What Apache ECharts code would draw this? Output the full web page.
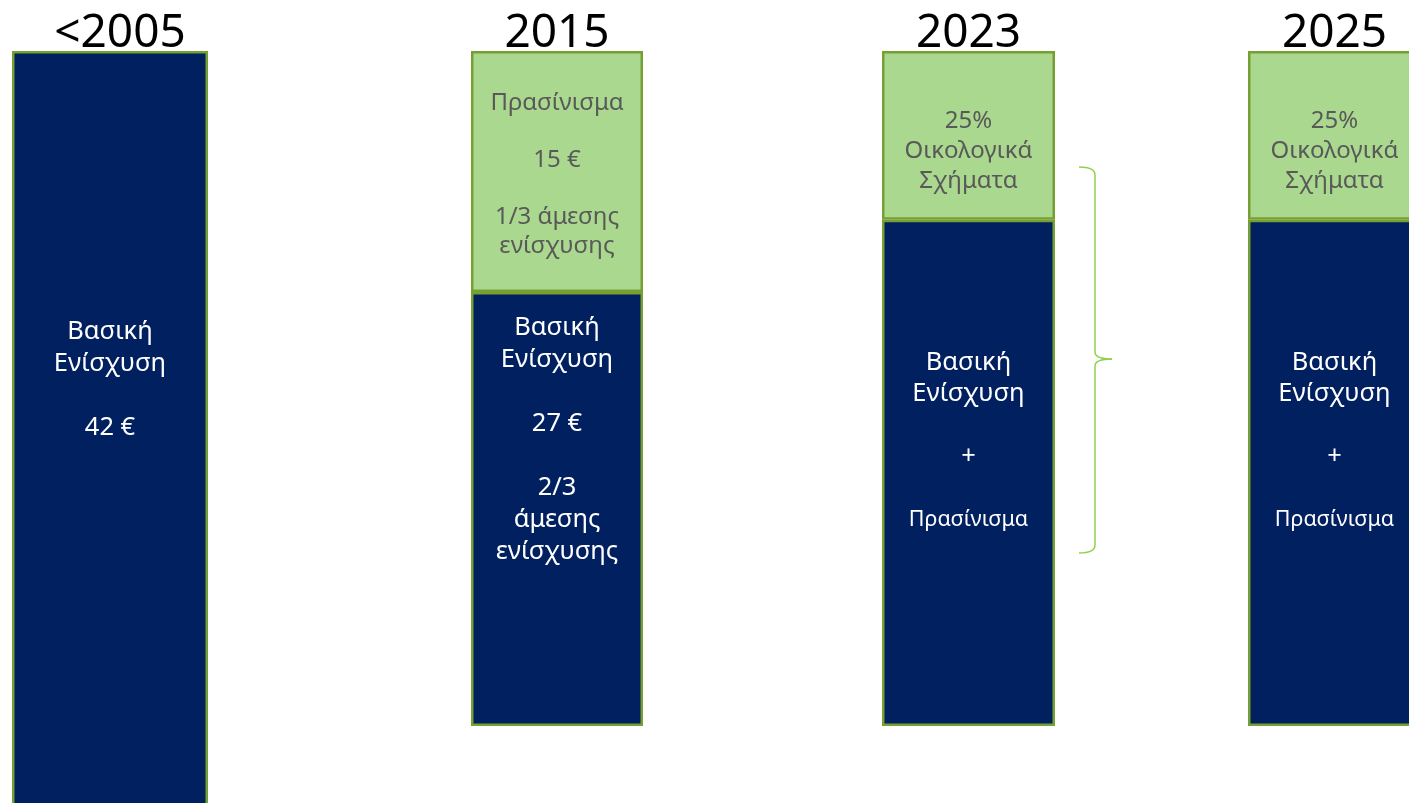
<!DOCTYPE html>
<html>
<head>
<meta charset="utf-8">
<script src="https://cdn.jsdelivr.net/npm/echarts@6/dist/echarts.min.js"></script>
<style>
  html, body { margin: 0; padding: 0; background: #ffffff; }
  #chart { width: 1409px; height: 803px; }
</style>
</head>
<body>
<div id="chart"></div>
<script>
// Periods shown as columns
const categories = ['<2005', '2015', '2023', '2025'];
// Basic support share (navy part) and greening / eco-scheme share (green part)
const basicValues = [42, 27, 75, 75];
const greenValues = [null, 15, 25, 25];
// Scale of each column (€ for the first two, % for the last two)
const columnMax = [42, 42, 100, 100];

// Texts written inside the segments
const basicLabels = [
  ['Βασική', 'Ενίσχυση', '', '42 €'],
  ['Βασική', 'Ενίσχυση', '', '27 €', '', '2/3', 'άμεσης', 'ενίσχυσης'],
  ['Βασική', 'Ενίσχυση', '', '+', '', '{s|Πρασίνισμα}'],
  ['Βασική', 'Ενίσχυση', '', '+', '', '{s|Πρασίνισμα}']
];
const greenLabels = [
  null,
  ['Πρασίνισμα', '', '15 €', '', '1/3 άμεσης', 'ενίσχυσης'],
  ['25%', 'Οικολογικά', 'Σχήματα'],
  ['25%', 'Οικολογικά', 'Σχήματα']
];

const NAVY = '#002060';
const LIGHT_GREEN = '#a9d88e';
const EDGE = '#76a032';
const BRACE = '#92d050';
const FONT = '"Noto Sans", "DejaVu Sans", sans-serif';

// Column placement (the first and last columns run past the canvas edge)
const grids = [
  { left: 12,   top: 51, width: 196, height: 800 },
  { left: 471,  top: 51, width: 172, height: 675 },
  { left: 882,  top: 51, width: 173, height: 675 },
  { left: 1248, top: 51, width: 173, height: 675 }
].map(g => Object.assign({ containLabel: false, outerBoundsMode: 'none' }, g));

// Label offsets from the top of each segment
const basicDist = [265, 20, 127, 127];
const greenDist = [0, 38, 55, 55];
const basicLH = [32, 32, 31.5, 31.5];

const xAxes = [], yAxes = [], series = [];
categories.forEach((cat, i) => {
  xAxes.push({
    type: 'category', gridIndex: i, data: [cat], position: 'top',
    axisLine: { show: false }, axisTick: { show: false },
    axisLabel: {
      show: true, color: '#000000', fontSize: 46, fontFamily: FONT,
      margin: -6, padding: i === 0 ? [0, 0, 0, 20] : 0
    }
  });
  yAxes.push({
    type: 'value', gridIndex: i, min: 0, max: columnMax[i], show: false,
    splitLine: { show: false }
  });
  series.push({
    type: 'bar', xAxisIndex: i, yAxisIndex: i, stack: 'col' + i,
    barWidth: '100%', data: [basicValues[i]],
    itemStyle: { color: NAVY, borderColor: EDGE, borderWidth: 2.5 },
    label: {
      show: true, position: 'insideTop', distance: basicDist[i],
      formatter: basicLabels[i].join('\n'),
      color: '#ffffff', fontSize: 25.5, fontFamily: FONT, lineHeight: basicLH[i],
      rich: { s: { fontSize: 21.5, color: '#ffffff', fontFamily: FONT, lineHeight: basicLH[i] } }
    },
    emphasis: { disabled: true }, silent: true
  });
  if (greenValues[i] != null) {
    series.push({
      type: 'bar', xAxisIndex: i, yAxisIndex: i, stack: 'col' + i,
      barWidth: '100%', data: [greenValues[i]],
      itemStyle: { color: LIGHT_GREEN, borderColor: EDGE, borderWidth: 2.5 },
      label: {
        show: true, position: 'insideTop', distance: greenDist[i],
        formatter: greenLabels[i].join('\n'),
        color: '#595959', fontSize: 24, fontFamily: FONT,
        lineHeight: i === 1 ? 28.5 : 30
      },
      emphasis: { disabled: true }, silent: true
    });
  }
});

// Curly brace grouping the 2023 segments
const braceStyle = { stroke: BRACE, lineWidth: 1.5, fill: null };
const brace = {
  type: 'group', silent: true,
  children: [
    { type: 'bezierCurve', shape: { x1: 1079, y1: 167, x2: 1095, y2: 175, cpx1: 1095, cpy1: 167 }, style: braceStyle },
    { type: 'line', shape: { x1: 1095, y1: 175, x2: 1095, y2: 352 }, style: braceStyle },
    { type: 'bezierCurve', shape: { x1: 1095, y1: 352, x2: 1112, y2: 359, cpx1: 1095, cpy1: 359 }, style: braceStyle },
    { type: 'bezierCurve', shape: { x1: 1112, y1: 359, x2: 1095, y2: 366, cpx1: 1095, cpy1: 359 }, style: braceStyle },
    { type: 'line', shape: { x1: 1095, y1: 366, x2: 1095, y2: 545 }, style: braceStyle },
    { type: 'bezierCurve', shape: { x1: 1095, y1: 545, x2: 1079, y2: 553, cpx1: 1095, cpy1: 553 }, style: braceStyle }
  ]
};

const chart = echarts.init(document.getElementById('chart'), null, { renderer: 'canvas' });
chart.setOption({
  animation: false,
  backgroundColor: '#ffffff',
  grid: grids,
  xAxis: xAxes,
  yAxis: yAxes,
  series: series,
  graphic: [brace]
});
</script>
</body>
</html>
